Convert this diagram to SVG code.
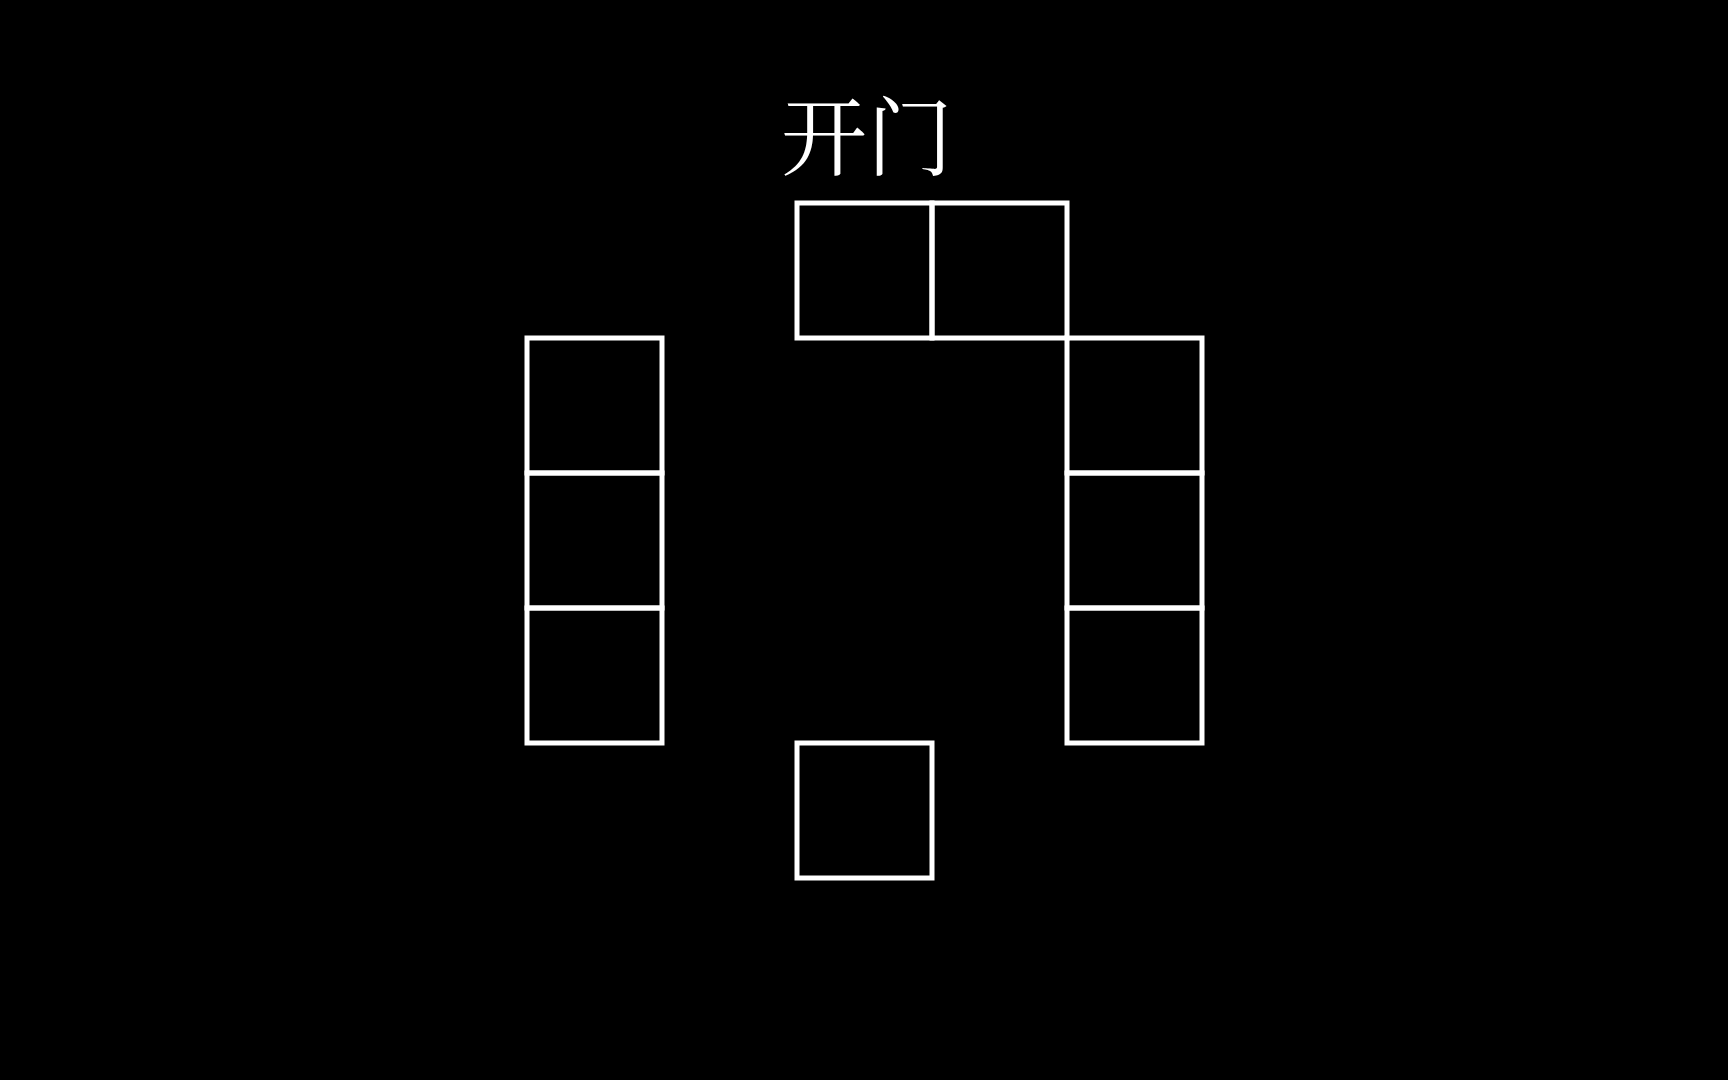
<svg xmlns="http://www.w3.org/2000/svg" width="1728" height="1080" viewBox="0 0 1728 1080">
<style>
.cell{fill:none;stroke:#fff;stroke-width:5}
.lbl{fill:#fff;font-family:"Noto Serif CJK SC","Noto Sans CJK SC",serif;font-size:86px}
</style>
<rect width="1728" height="1080" fill="#000"/>
<g id="label"><text class="lbl" x="781" y="168.5">开门</text></g>
<g id="top1"><rect class="cell" x="797" y="203" width="135" height="135"/></g>
<g id="top2"><rect class="cell" x="932" y="203" width="135" height="135"/></g>
<g id="left1"><rect class="cell" x="527" y="338" width="135" height="135"/></g>
<g id="left2"><rect class="cell" x="527" y="473" width="135" height="135"/></g>
<g id="left3"><rect class="cell" x="527" y="608" width="135" height="135"/></g>
<g id="right1"><rect class="cell" x="1067" y="338" width="135" height="135"/></g>
<g id="right2"><rect class="cell" x="1067" y="473" width="135" height="135"/></g>
<g id="right3"><rect class="cell" x="1067" y="608" width="135" height="135"/></g>
<g id="bottom"><rect class="cell" x="797" y="743" width="135" height="135"/></g>
<g id="connectors"></g>
</svg>
